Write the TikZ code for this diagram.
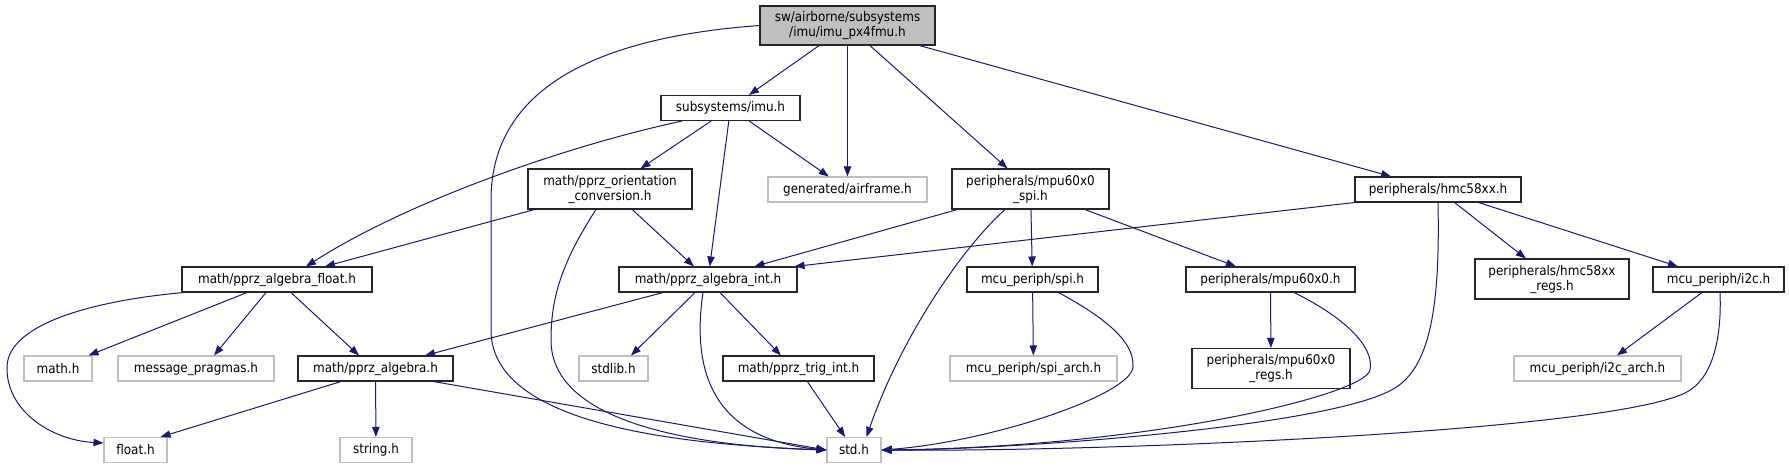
\documentclass[tikz,border=0pt]{standalone}
\usepackage{fontspec}
\setmainfont{DejaVu Sans Condensed}
\usepackage{xcolor}
\usepackage{tikz}
\usetikzlibrary{arrows.meta,calc}
\definecolor{edgeblue}{HTML}{191970}
\definecolor{boxgray}{HTML}{BFBFBF}

\begin{document}
\begin{tikzpicture}[x=0.75pt, y=-0.75pt, every node/.style={font=\fontsize{10}{11.25}\selectfont},
  hdr/.style={rectangle, draw=black!85, line width=0.8pt, fill=white, align=center, inner sep=0pt, minimum height=18.75pt},
  ext/.style={hdr, draw=boxgray},
  cur/.style={hdr, fill=boxgray},
  dep/.style={-{Stealth[length=7.5pt, width=5.5pt, inset=0pt]}, color=edgeblue, line width=0.75pt}]
\path[fill=white, use as bounding box] (0,0) rectangle (1789,469);
\node[cur, minimum width=131.25pt, minimum height=29.25pt] (root) at (847.5,25.5) {sw/airborne/subsystems\\/imu/imu\_px4fmu.h};
\node[hdr, minimum width=104.25pt] (imu) at (730.5,108) {subsystems/imu.h};
\node[hdr, minimum width=123pt, minimum height=30pt] (conv) at (610,189) {math/pprz\_orientation\\\_conversion.h};
\node[ext, minimum width=119.25pt] (afr) at (847.5,189.5) {generated/airframe.h};
\node[hdr, minimum width=117.75pt, minimum height=30pt] (mspi) at (1030.5,189) {peripherals/mpu60x0\\\_spi.h};
\node[hdr, minimum width=124.5pt] (hmc) at (1438,189.5) {peripherals/hmc58xx.h};
\node[hdr, minimum width=142.5pt] (aflt) at (277,279.5) {math/pprz\_algebra\_float.h};
\node[hdr, minimum width=133.5pt] (aint) at (708,279.5) {math/pprz\_algebra\_int.h};
\node[hdr, minimum width=98.25pt] (spi) at (1032.5,279.5) {mcu\_periph/spi.h};
\node[hdr, minimum width=126.75pt] (mpu) at (1270.5,279.5) {peripherals/mpu60x0.h};
\node[hdr, minimum width=115.5pt, minimum height=30pt] (hreg) at (1552,279) {peripherals/hmc58xx\\\_regs.h};
\node[hdr, minimum width=98.25pt] (i2c) at (1718.5,279.5) {mcu\_periph/i2c.h};
\node[ext, minimum width=51pt] (mth) at (58,368.5) {math.h};
\node[ext, minimum width=117pt] (msg) at (196,368.5) {message\_pragmas.h};
\node[hdr, minimum width=116.25pt] (alg) at (375.5,368.5) {math/pprz\_algebra.h};
\node[ext, minimum width=51.75pt] (stdl) at (613.5,368.5) {stdlib.h};
\node[hdr, minimum width=113.25pt] (trig) at (798.5,368.5) {math/pprz\_trig\_int.h};
\node[ext, minimum width=125.25pt] (sarch) at (1033.5,368.5) {mcu\_periph/spi\_arch.h};
\node[hdr, minimum width=118.5pt, minimum height=30pt] (mreg) at (1271,368.5) {peripherals/mpu60x0\\\_regs.h};
\node[ext, minimum width=125.25pt] (iarch) at (1597.5,368.5) {mcu\_periph/i2c\_arch.h};
\node[ext, minimum width=47.25pt] (flt) at (135.5,450) {float.h};
\node[ext, minimum width=54pt] (str) at (376,450) {string.h};
\node[ext, minimum width=40.5pt] (std) at (854,450) {std.h};
\draw[dep] (root) -- (imu);
\draw[dep] (root) -- (afr);
\draw[dep] (root) -- (mspi);
\draw[dep] (root) -- (hmc);
\draw[dep] (root.west) .. controls (560,40) and (491,110) .. (491,200) -- (491,330) .. controls (491,430) and (700,445) .. (std.west);
\draw[dep] ($(imu.south)+(-48.5,0)$) .. controls (570,145) and (410,200) .. ($(aflt.north)+(29,0)$);
\draw[dep] (imu) -- (conv);
\draw[dep] (imu) -- (aint);
\draw[dep] (imu) -- (afr);
\draw[dep] (conv) -- (aflt);
\draw[dep] (conv) -- (aint);
\draw[dep] ($(conv.south)+(-14,0)$) .. controls (560,265) and (551,300) .. (551,340) .. controls (551,430) and (720,447) .. (std.west);
\draw[dep] (mspi) -- (aint);
\draw[dep] (mspi) -- (spi);
\draw[dep] (mspi) -- (mpu);
\draw[dep] ($(mspi.south)+(-25.5,0)$) .. controls (960,250) and (900,340) .. ($(std.north east)+(-15,0)$);
\draw[dep] (hmc.south west) -- ($(aint.north east)+(-3,0)$);
\draw[dep] (hmc) -- (hreg);
\draw[dep] (hmc) -- (i2c);
\draw[dep] (hmc.south) .. controls (1440,300) and (1432,365) .. (1395,388) .. controls (1330,428) and (1000,450) .. (std.east);
\draw[dep] ($(aflt.south west)+(2,0)$) .. controls (100,300) and (8,322) .. (7,367) .. controls (6,410) and (50,440) .. ($(flt.west)+(0,-7)$);
\draw[dep] ($(aflt.south)+(-30,0)$) -- ($(mth.north east)+(-4,0)$);
\draw[dep] ($(aflt.south)+(-11,0)$) -- ($(msg.north)+(18,0)$);
\draw[dep] ($(aflt.south)+(14,0)$) -- ($(alg.north)+(-16.5,0)$);
\draw[dep] ($(aint.south)+(-45,0)$) -- ($(alg.north)+(49.5,0)$);
\draw[dep] ($(aint.south)+(-13,0)$) -- ($(stdl.north)+(17.5,0)$);
\draw[dep] ($(aint.south)+(12,0)$) -- ($(trig.north)+(-17.5,0)$);
\draw[dep] ($(aint.south)+(-5,0)$) .. controls (690,380) and (720,440) .. (std.west);
\draw[dep] ($(alg.south)+(-34.5,0)$) -- ($(flt.north east)+(-7,0)$);
\draw[dep] (alg) -- (str);
\draw[dep] ($(alg.south east)+(-20,0)$) -- (std.west);
\draw[dep] (trig) -- (std);
\draw[dep] (spi) -- (sarch);
\draw[dep] ($(spi.south east)+(-40,0)$) .. controls (1100,315) and (1135,340) .. (1133,367) .. controls (1131,395) and (990,442) .. (std.east);
\draw[dep] (mpu) -- (mreg);
\draw[dep] ($(mpu.south)+(23.5,0)$) .. controls (1340,315) and (1375,345) .. (1370,370) .. controls (1365,395) and (1150,447) .. (std.east);
\draw[dep] ($(i2c.south)+(-16.5,0)$) -- ($(iarch.north)+(19.5,0)$);
\draw[dep] ($(i2c.south)+(1.5,0)$) .. controls (1722,340) and (1712,380) .. (1685,393) .. controls (1604,432) and (1100,452) .. (std.east);
\end{tikzpicture}
\end{document}
